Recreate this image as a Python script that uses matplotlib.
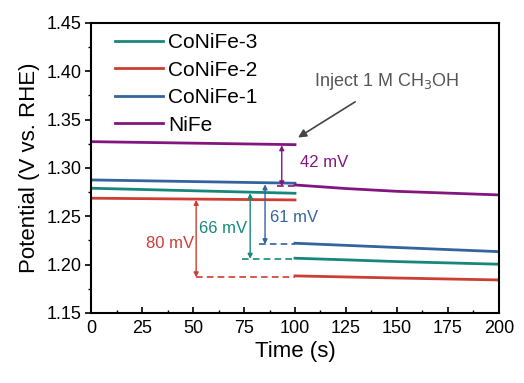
import matplotlib.pyplot as plt
import numpy as np

plt.rcParams['font.family'] = ['Liberation Sans', 'DejaVu Sans']

# time points (s) before / after methanol injection
t_before = [0, 100]
t_after = [100, 125, 150, 200]

labels = ["CoNiFe-3", "CoNiFe-2", "CoNiFe-1", "NiFe"]
colors = ["#17877c", "#cc3d33", "#33649c", "#84157f"]

v_before = {
    "CoNiFe-3": [1.2790, 1.2738],
    "CoNiFe-2": [1.2687, 1.2669],
    "CoNiFe-1": [1.2876, 1.2842],
    "NiFe": [1.3272, 1.3241],
}
v_after = {
    "CoNiFe-3": [1.2066, 1.2049, 1.2031, 1.2004],
    "CoNiFe-2": [1.1883, 1.1872, 1.1861, 1.1841],
    "CoNiFe-1": [1.2221, 1.2199, 1.2177, 1.2134],
    "NiFe": [1.2824, 1.2787, 1.2758, 1.2721],
}

# potential gaps: (label, x of arrow, top, bottom, dashed start x, text, text pos)
gaps = [
    ("NiFe", 93.5, 1.3235, 1.2810, 91, "42 mV", (102.5, 1.306)),
    ("CoNiFe-1", 85.3, 1.2830, 1.2210, 82.5, "61 mV", (87.5, 1.249)),
    ("CoNiFe-3", 78.0, 1.2740, 1.2060, 74, "66 mV", (53, 1.237)),
    ("CoNiFe-2", 51.5, 1.2670, 1.1868, 51.5, "80 mV", (27, 1.222)),
]

fig = plt.figure(figsize=(5.24, 3.83), dpi=100)
ax = fig.add_axes([0.174, 0.183, 0.778, 0.757])

for lab, c in zip(labels, colors):
    ax.plot(t_before, v_before[lab], color=c, lw=2, label=lab)
    ax.plot(t_after, v_after[lab], color=c, lw=2)

for lab, xa, top, bot, xs, txt, pos in gaps:
    c = colors[labels.index(lab)]
    ax.annotate("", xy=(xa, bot), xytext=(xa, top),
                arrowprops=dict(arrowstyle="<|-|>", color=c, lw=1.0,
                                mutation_scale=7, shrinkA=0, shrinkB=0))
    ax.plot([xs, 100], [bot, bot], color=c, lw=1.2, ls=(0, (4, 2.5)))
    ax.text(pos[0], pos[1], txt, color=c, fontsize=12, va="center", ha="left")

ax.annotate("Inject 1 M CH$_3$OH", xy=(101.5, 1.3315), xytext=(109.5, 1.389),
            color="#555555", fontsize=13, va="center", ha="left",
            arrowprops=dict(arrowstyle="-|>", color="#444444", lw=1.2,
                            mutation_scale=12, shrinkA=9, shrinkB=0))

ax.set_xlim(0, 200)
ax.set_ylim(1.15, 1.45)
ax.set_xticks(np.arange(0, 201, 25))
ax.set_yticks(np.arange(1.15, 1.451, 0.05))
ax.set_xticks(np.arange(0, 201, 12.5), minor=True)
ax.set_yticks(np.arange(1.15, 1.451, 0.025), minor=True)
ax.set_yticklabels([f"{v:.2f}" for v in np.arange(1.15, 1.451, 0.05)])
ax.tick_params(axis="x", which="major", direction="in", length=4, width=1.2, labelsize=13, pad=5)
ax.tick_params(axis="x", which="minor", direction="in", length=2, width=1)
ax.tick_params(axis="y", which="major", direction="out", length=4, width=1.2, labelsize=13, pad=3)
ax.tick_params(axis="y", which="minor", direction="out", length=2, width=1)
for s in ax.spines.values():
    s.set_linewidth(1.5)

ax.set_xlabel("Time (s)", fontsize=16, labelpad=3)
ax.set_ylabel("Potential (V vs. RHE)", fontsize=16, labelpad=5)

ax.legend(loc="upper left", frameon=False, fontsize=15, handlelength=2.3,
          handletextpad=0.25, labelspacing=0.41, borderaxespad=0, borderpad=0,
          bbox_to_anchor=(0.059, 0.965))

fig.savefig("out.png", dpi=100)
